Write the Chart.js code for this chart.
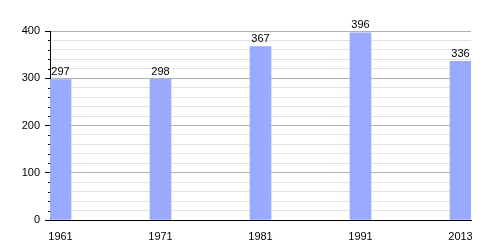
<!DOCTYPE html>
<html>
<head>
<meta charset="utf-8">
<script src="https://cdn.jsdelivr.net/npm/chart.js@4/dist/chart.umd.min.js"></script>
<style>
  html, body { margin: 0; padding: 0; background: #fff; }
  #wrap { width: 500px; height: 250px; }
</style>
</head>
<body>
<div id="wrap"><canvas id="popChart"></canvas></div>
<script>
const years = ['1961', '1971', '1981', '1991', '2013'];
const population = [297, 298, 367, 396, 336];
const yTicks = [0, 100, 200, 300, 400];

Chart.defaults.font.family = '"Liberation Sans", Arial, sans-serif';
Chart.defaults.font.size = 11;
Chart.defaults.color = '#000';

// value above every bar
const valueLabels = {
  id: 'valueLabels',
  afterDatasetsDraw(chart) {
    const ctx = chart.ctx;
    const meta = chart.getDatasetMeta(0);
    ctx.save();
    ctx.fillStyle = '#000';
    ctx.font = '11px "Liberation Sans", Arial, sans-serif';
    ctx.textAlign = 'center';
    ctx.textBaseline = 'bottom';
    meta.data.forEach((bar, i) => {
      ctx.fillText(population[i], bar.x, bar.y - 2);
    });
    ctx.restore();
  }
};

// short minor ticks on the y axis
const minorTicks = {
  id: 'minorTicks',
  afterDraw(chart) {
    const y = chart.scales.y;
    const ctx = chart.ctx;
    ctx.save();
    ctx.strokeStyle = '#000';
    ctx.lineWidth = 1;
    y.ticks.forEach(t => {
      if (t.value % 100 === 0) return;
      const py = Math.round(y.getPixelForValue(t.value)) + 0.5;
      ctx.beginPath();
      ctx.moveTo(y.right - 2, py);
      ctx.lineTo(y.right, py);
      ctx.stroke();
    });
    ctx.restore();
  }
};

new Chart(document.getElementById('popChart'), {
  type: 'bar',
  data: {
    datasets: [{
      data: population.map((v, i) => ({ x: i, y: v })),
      backgroundColor: '#99aaff',
      barThickness: 21
    }]
  },
  options: {
    responsive: true,
    maintainAspectRatio: false,
    animation: false,
    layout: { padding: { top: 31, right: 29, left: 0, bottom: 0 } },
    plugins: { legend: { display: false }, tooltip: { enabled: false } },
    scales: {
      x: {
        type: 'linear',
        offset: false,
        min: -0.105,
        max: 4.105,
        grid: { display: false, offset: false },
        border: { color: '#000', width: 1 },
        ticks: {
          stepSize: 1,
          includeBounds: false,
          maxRotation: 0,
          padding: 2,
          callback: v => Number.isInteger(v) ? years[v] : ''
        },
        afterFit: s => { s.height = 30; }
      },
      y: {
        min: 0,
        max: 400,
        border: { color: '#000', width: 1 },
        grid: {
          color: c => c.tick && c.tick.value % 100 === 0 ? '#b0b0b0' : '#e2e2e2',
          tickColor: c => c.tick && c.tick.value % 100 === 0 ? '#000' : 'rgba(0,0,0,0)',
          tickLength: 5
        },
        ticks: {
          stepSize: 20,
          padding: 5,
          autoSkip: false,
          callback: v => yTicks.includes(v) ? v : ''
        },
        afterFit: s => { s.width = 50; }
      }
    }
  },
  plugins: [valueLabels, minorTicks]
});
</script>
</body>
</html>
